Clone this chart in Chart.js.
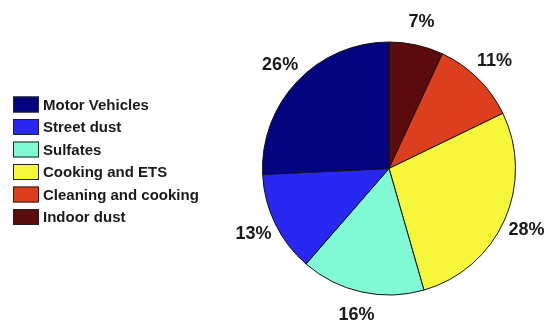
<!DOCTYPE html>
<html lang="en">
<head>
  <meta charset="utf-8">
  <title>Source contributions</title>
  <script src="https://cdn.jsdelivr.net/npm/chart.js@4.4.1/dist/chart.umd.min.js"></script>
  <style>
    html, body { margin: 0; padding: 0; background: #fff; }
    #wrap { width: 546px; height: 326px; position: relative; }
  </style>
</head>
<body>
  <div id="wrap">
    <canvas id="pie_chart" width="546" height="326"></canvas>
  </div>

  <script>
    // slices in clockwise order starting at 12 o'clock
    var sources = ["Indoor dust", "Cleaning and cooking", "Cooking and ETS", "Sulfates", "Street dust", "Motor Vehicles"];
    var percents = [7, 11, 28, 16, 13, 26];
    var colors = ["#5c0b0d", "#dc3f1e", "#f6f63a", "#80f9d5", "#2828f2", "#04047f"];

    // percentage text just outside each slice
    var outsideLabels = {
      id: 'outsideLabels',
      afterDatasetsDraw: function(chart) {
        var ctx = chart.ctx;
        var meta = chart.getDatasetMeta(0);
        ctx.save();
        ctx.font = 'bold 18px "Liberation Sans", Arial, sans-serif';
        ctx.fillStyle = '#1a1a1a';
        ctx.textAlign = 'center';
        ctx.textBaseline = 'middle';
        meta.data.forEach(function(arc, i) {
          var p = arc.getProps(['x', 'y', 'startAngle', 'endAngle', 'outerRadius'], true);
          var mid = (p.startAngle + p.endAngle) / 2;
          var r = p.outerRadius + 24;
          ctx.fillText(chart.data.datasets[0].data[i] + '%', p.x + Math.cos(mid) * r, p.y + Math.sin(mid) * r);
        });
        ctx.restore();
      }
    };

    // boxed legend on the left, listed bottom slice first
    var sideLegend = {
      id: 'sideLegend',
      afterDraw: function(chart) {
        var ctx = chart.ctx;
        var labels = chart.data.labels.slice().reverse();
        var fills = chart.data.datasets[0].backgroundColor.slice().reverse();
        ctx.save();
        ctx.font = 'bold 15px "Liberation Sans", Arial, sans-serif';
        ctx.textBaseline = 'middle';
        labels.forEach(function(txt, i) {
          var cy = 104.5 + i * 22.5;
          ctx.fillStyle = fills[i];
          ctx.fillRect(13, cy - 8, 26, 16);
          ctx.strokeStyle = '#222';
          ctx.lineWidth = 1;
          ctx.strokeRect(13.5, cy - 7.5, 25, 15);
          ctx.fillStyle = '#1a1a1a';
          ctx.fillText(txt, 43, cy + 1);
        });
        ctx.restore();
      }
    };

    var pie_chart = document.getElementById("pie_chart");
    var myPieChart = new Chart(pie_chart, {
      type: 'pie',
      data: {
        labels: sources,
        datasets: [{
          data: percents,
          backgroundColor: colors,
          borderColor: '#111',
          borderWidth: 1
        }]
      },
      options: {
        responsive: false,
        animation: false,
        layout: { padding: { left: 262, right: 30, top: 41, bottom: 30 } },
        plugins: {
          legend: { display: false },
          tooltip: { enabled: false }
        }
      },
      plugins: [outsideLabels, sideLegend]
    });
  </script>
</body>
</html>
